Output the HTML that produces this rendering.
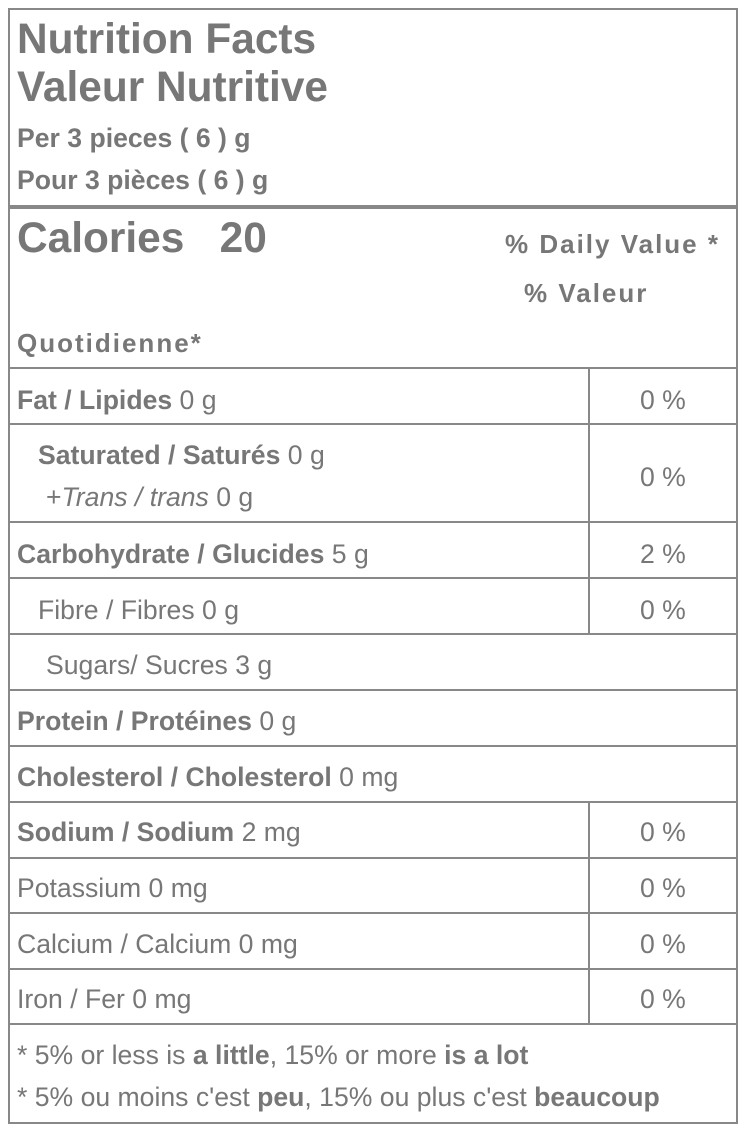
<!DOCTYPE html>
<html><head><meta charset="utf-8"><style>
body{margin:0;width:746px;height:1131px;background:#fff;position:relative;font-family:"Liberation Sans",Arial,sans-serif;color:#777;overflow:hidden}
.t{position:absolute;line-height:1;white-space:nowrap;font-size:26.6px}
.b{font-weight:bold}
.w{letter-spacing:2px;font-size:26px}
.h{position:absolute;left:9px;width:727px;height:2px;background:#888}
.v{position:absolute;width:2px;background:#888}
</style></head><body>
<div style="position:absolute;left:8px;top:8px;width:726px;height:1112px;border:2px solid #888"></div>
<div class="h" style="top:205px;height:4px"></div>
<div class="h" style="top:367px"></div>
<div class="h" style="top:423px"></div>
<div class="h" style="top:521px"></div>
<div class="h" style="top:577px"></div>
<div class="h" style="top:633px"></div>
<div class="h" style="top:689px"></div>
<div class="h" style="top:745px"></div>
<div class="h" style="top:801px"></div>
<div class="h" style="top:857px"></div>
<div class="h" style="top:912px"></div>
<div class="h" style="top:968px"></div>
<div class="h" style="top:1023px"></div>
<div class="v" style="left:588px;top:367px;height:268px"></div>
<div class="v" style="left:588px;top:801px;height:224px"></div>

<div class="t b" style="left:17px;top:18px;font-size:42.4px">Nutrition Facts</div>
<div class="t b" style="left:17px;top:66px;font-size:42.4px">Valeur Nutritive</div>
<div class="t b" style="left:17px;top:125px">Per 3 pieces ( 6 ) g</div>
<div class="t b" style="left:17px;top:167px">Pour 3 pièces ( 6 ) g</div>
<div class="t b" style="left:17px;top:217px;font-size:42.4px">Calories&nbsp;&nbsp;&nbsp;20</div>
<div class="t b w" style="left:505px;top:231px">% Daily Value *</div>
<div class="t b w" style="left:524px;top:280px">% Valeur</div>
<div class="t b w" style="left:17px;top:330px">Quotidienne*</div>

<div class="t" style="left:17px;top:387px"><b>Fat / Lipides</b> 0 g</div>
<div class="t" style="left:640px;top:387px">0 %</div>
<div class="t" style="left:38px;top:442px"><b>Saturated / Saturés</b> 0 g</div>
<div class="t" style="left:46px;top:484px">+<i>Trans / trans</i> 0 g</div>
<div class="t" style="left:640px;top:464px">0 %</div>
<div class="t" style="left:17px;top:541px"><b>Carbohydrate / Glucides</b> 5 g</div>
<div class="t" style="left:640px;top:541px">2 %</div>
<div class="t" style="left:38px;top:597px">Fibre / Fibres 0 g</div>
<div class="t" style="left:640px;top:597px">0 %</div>
<div class="t" style="left:46px;top:652px">Sugars/ Sucres 3 g</div>
<div class="t" style="left:17px;top:708px"><b>Protein / Protéines</b> 0 g</div>
<div class="t" style="left:17px;top:764px"><b>Cholesterol / Cholesterol</b> 0 mg</div>
<div class="t" style="left:17px;top:819px"><b>Sodium / Sodium</b> 2 mg</div>
<div class="t" style="left:640px;top:819px">0 %</div>
<div class="t" style="left:17px;top:875px">Potassium 0 mg</div>
<div class="t" style="left:640px;top:875px">0 %</div>
<div class="t" style="left:17px;top:931px">Calcium / Calcium 0 mg</div>
<div class="t" style="left:640px;top:931px">0 %</div>
<div class="t" style="left:17px;top:986px">Iron / Fer 0 mg</div>
<div class="t" style="left:640px;top:986px">0 %</div>
<div class="t" style="left:17px;top:1042px">* 5% or less is <b>a little</b>, 15% or more <b>is a lot</b></div>
<div class="t" style="left:17px;top:1084px">* 5% ou moins c'est <b>peu</b>, 15% ou plus c'est <b>beaucoup</b></div>
</body></html>
